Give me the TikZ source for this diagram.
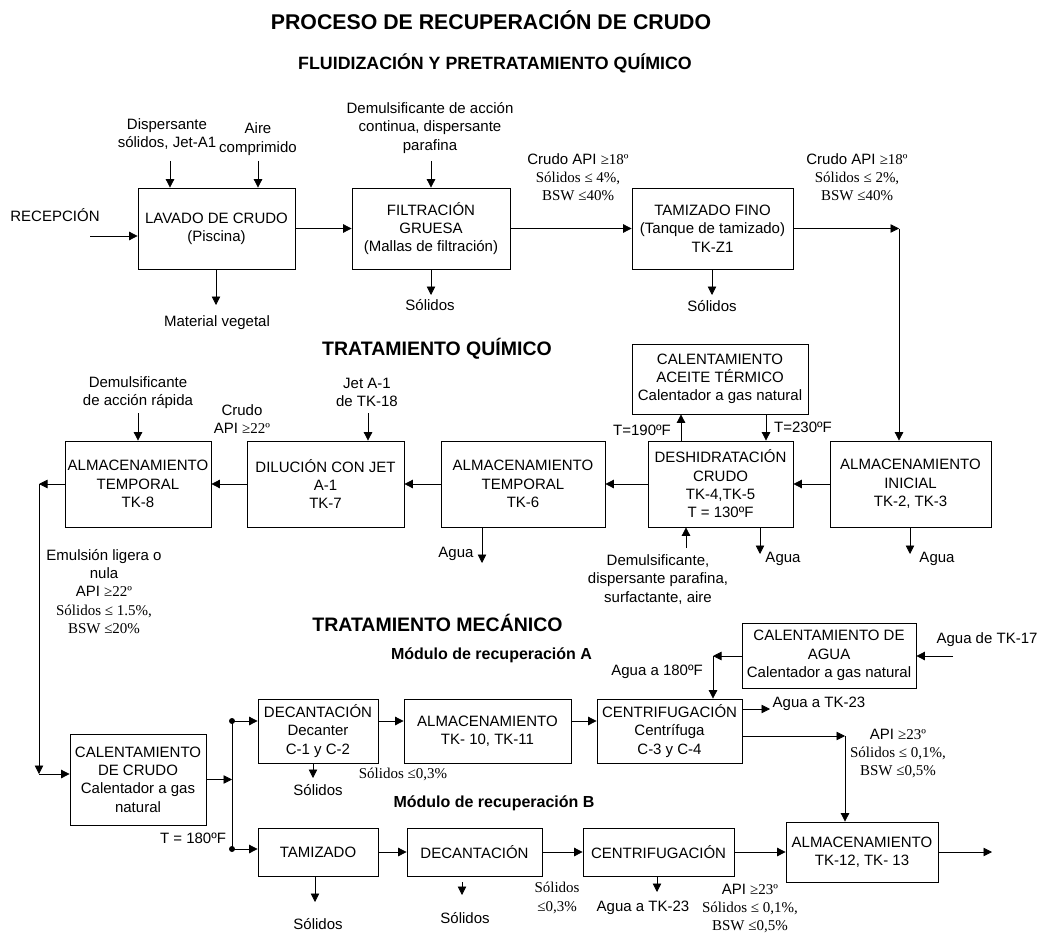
\documentclass[tikz,border=0pt]{standalone}
\usepackage{fontspec}
\setmainfont{Liberation Sans}
\newfontfamily\tnr{Liberation Serif}
\usepackage{tikz}
\usetikzlibrary{arrows.meta,positioning}
\newcommand{\tms}[1]{{\tnr #1}}

\begin{document}
\begin{tikzpicture}[
    x=1pt, y=-1pt,
    >={Triangle[length=8.5pt,width=8.5pt]},
    line width=0.8pt,
    every node/.style={font=\fontsize{15}{18.3}\selectfont},
    proc/.style={draw, rectangle, inner sep=0pt, align=center},
    lbl/.style={align=center, inner sep=1.5pt},
    head/.style={font=\fontsize{19.5}{22}\selectfont\bfseries},
    subhead/.style={font=\fontsize{16}{19}\selectfont\bfseries}
]
    \useasboundingbox (0,0) rectangle (1046,936);

    \node[font=\fontsize{21.3}{24}\selectfont\bfseries] (title) at (491,20) {PROCESO DE RECUPERACIÓN DE CRUDO};
    \node[font=\fontsize{17.8}{21}\selectfont\bfseries] (sub) at (495,63) {FLUIDIZACIÓN Y PRETRATAMIENTO QUÍMICO};
    \node[head] (headQ) at (437,349) {TRATAMIENTO QUÍMICO};
    \node[head] (headM) at (437.5,623) {TRATAMIENTO MECÁNICO};
    \node[subhead] (modA) at (491.5,655) {Módulo de recuperación A};
    \node[subhead] (modB) at (494,803) {Módulo de recuperación B};

    % fluidizacion
    \node[proc, minimum width=157pt, minimum height=81pt] (lavado) at (216.5,228.5) {LAVADO DE CRUDO\\(Piscina)};
    \node[proc, minimum width=158pt, minimum height=81pt] (filtr) at (431,228.5) {FILTRACIÓN\\GRUESA\\(Mallas de filtración)};
    \node[proc, minimum width=161pt, minimum height=81pt] (tamiz) at (712.5,228.5) {TAMIZADO FINO\\(Tanque de tamizado)\\TK-Z1};

    % quimico
    \node[proc, minimum width=176pt, minimum height=70pt] (caceite) at (720,379) {CALENTAMIENTO\\ACEITE TÉRMICO\\Calentador a gas natural};
    \node[proc, minimum width=145pt, minimum height=86pt] (deshid) at (720.5,484) {DESHIDRATACIÓN\\CRUDO\\TK-4,TK-5\\T = 130ºF};
    \node[proc, minimum width=161pt, minimum height=86pt] (inicial) at (910.5,484) {ALMACENAMIENTO\\INICIAL\\TK-2, TK-3};
    \node[proc, minimum width=164pt, minimum height=86pt] (tk6) at (523,484) {ALMACENAMIENTO\\TEMPORAL\\TK-6};
    \node[proc, minimum width=157pt, minimum height=86pt] (dilucion) at (325.5,484) {DILUCIÓN CON JET\\A-1\\TK-7};
    \node[proc, minimum width=146pt, minimum height=86pt] (tk8) at (138,484) {ALMACENAMIENTO\\TEMPORAL\\TK-8};

    % mecanico
    \node[proc, minimum width=136pt, minimum height=91pt] (ccrudo) at (138,779.5) {CALENTAMIENTO\\DE CRUDO\\Calentador a gas\\natural};
    \node[proc, minimum width=120pt, minimum height=64pt] (decA) at (318,731) {DECANTACIÓN\\Decanter\\C-1 y C-2};
    \node[proc, minimum width=167pt, minimum height=64pt] (almA) at (487.5,731) {ALMACENAMIENTO\\TK- 10, TK-11};
    \node[proc, minimum width=145pt, minimum height=64pt] (cenA) at (669.5,731) {CENTRIFUGACIÓN\\Centrífuga\\C-3 y C-4};
    \node[proc, minimum width=174pt, minimum height=65pt] (cagua) at (829,655.5) {CALENTAMIENTO DE\\AGUA\\Calentador a gas natural};
    \node[proc, minimum width=120pt, minimum height=48pt] (tamB) at (318,852) {TAMIZADO};
    \node[proc, minimum width=135pt, minimum height=48pt] (decB) at (474.5,852) {DECANTACIÓN};
    \node[proc, minimum width=151pt, minimum height=48pt] (cenB) at (658.5,852) {CENTRIFUGACIÓN};
    \node[proc, minimum width=152pt, minimum height=60pt] (almF) at (862,852) {ALMACENAMIENTO\\TK-12, TK- 13};

    % free ends
    \coordinate (rIn) at (90,236);
    \coordinate (fDisp) at (170,161);
    \coordinate (fAire) at (258,161);
    \coordinate (oVeg) at (216,305);
    \coordinate (fDem) at (431,161);
    \coordinate (oSol1) at (431,295);
    \coordinate (oSol2) at (712,295);
    \coordinate (jT) at (899,228.5);
    \coordinate (fDemR) at (138,413);
    \coordinate (fJet) at (368,413);
    \coordinate (fDesh) at (686,548);
    \coordinate (oW6) at (482,563);
    \coordinate (oWD) at (760,554);
    \coordinate (oWI) at (910,554);
    \coordinate (jL) at (39,484);
    \coordinate (jD) at (39,774);
    \coordinate (jA) at (232,721);
    \coordinate (jB) at (232,849);
    \coordinate (oSolA) at (313,778);
    \coordinate (wIn) at (953,656);
    \coordinate (jW) at (713,656);
    \coordinate (oTK23) at (770,709);
    \coordinate (jR) at (845,736);
    \coordinate (oSolT) at (315,902);
    \coordinate (sD0) at (462,882);
    \coordinate (oSolD) at (462,895);
    \coordinate (oCenB) at (657,892);
    \coordinate (out) at (992,852);

    % labels
    \node[lbl] (recep) at (55,215) {RECEPCIÓN};
    \node[lbl] (dispA) at (167,134) {Dispersante\\sólidos, Jet-A1};
    \node[lbl] (aire) at (258,139) {Aire\\comprimido};
    \node[lbl] (mveg) at (217,323) {Material vegetal};
    \node[lbl] (demc) at (430,128) {Demulsificante de acción\\continua, dispersante\\parafina};
    \node[lbl] (sol1) at (430,305) {Sólidos};
    \node[lbl] (cond1) at (578,177) {Crudo API \tms{≥18º}\\\tms{Sólidos ≤ 4\%,}\\\tms{BSW ≤40\%}};
    \node[lbl] (sol2) at (712,306) {Sólidos};
    \node[lbl] (cond2) at (857,177) {Crudo API \tms{≥18º}\\\tms{Sólidos ≤ 2\%,}\\\tms{BSW ≤40\%}};
    \node[lbl] (demr) at (138,392.5) {Demulsificante\\de acción rápida};
    \node[lbl] (jet) at (367,392.5) {Jet A-1\\de TK-18};
    \node[lbl] (crudo22) at (242,419) {Crudo\\API \tms{≥22º}};
    \node[lbl] (t190) at (642,430) {T=190ºF};
    \node[lbl] (t230) at (803,427) {T=230ºF};
    \node[lbl] (demd) at (658,579.5) {Demulsificante,\\dispersante parafina,\\surfactante, aire};
    \node[lbl] (agua6) at (456,554) {Agua};
    \node[lbl] (aguaD) at (783,559) {Agua};
    \node[lbl] (aguaI) at (937,559) {Agua};
    \node[lbl] (emul) at (104,591.5) {Emulsión ligera o\\nula\\API \tms{≥22º}\\\tms{Sólidos ≤ 1.5\%,}\\\tms{BSW ≤20\%}};
    \node[lbl] (t180) at (193,838) {T = 180ºF};
    \node[lbl] (solA) at (318,790) {Sólidos};
    \node[lbl] (solA2) at (403,774) {\tms{Sólidos ≤0,3\%}};
    \node[lbl] (aguaF) at (987,640) {Agua de TK-17};
    \node[lbl] (agua180) at (657,672) {Agua a 180ºF};
    \node[lbl] (aguaT1) at (819,704) {Agua a TK-23};
    \node[lbl] (cond3) at (898,753.5) {API \tms{≥23º}\\\tms{Sólidos ≤ 0,1\%,}\\\tms{BSW ≤0,5\%}};
    \node[lbl] (solT) at (318,924) {Sólidos};
    \node[lbl] (solD) at (465,918) {Sólidos};
    \node[lbl] (solD2) at (557,898) {\tms{Sólidos}\\\tms{≤0,3\%}};
    \node[lbl] (aguaT2) at (643,908) {Agua a TK-23};
    \node[lbl] (cond4) at (750,908.5) {API \tms{≥23º}\\\tms{Sólidos ≤ 0,1\%,}\\\tms{BSW ≤0,5\%}};

    % fluidizacion
    \draw[->] (rIn) -- (rIn -| lavado.west);
    \draw[->] (fDisp) -- (fDisp |- lavado.north);
    \draw[->] (fAire) -- (fAire |- lavado.north);
    \draw[->] (lavado.south -| oVeg) -- (oVeg);
    \draw[->] (lavado) -- (filtr);
    \draw[->] (fDem) -- (fDem |- filtr.north);
    \draw[->] (filtr.south) -- (oSol1);
    \draw[->] (filtr) -- (tamiz);
    \draw[->] (tamiz.south -| oSol2) -- (oSol2);
    \draw[->] (tamiz.east |- jT) -- (jT);
    \draw[->] (jT) -- (jT |- inicial.north);

    % quimico
    \draw[->] (inicial) -- (deshid);
    \draw[->] (deshid) -- (tk6);
    \draw[->] (tk6) -- (dilucion);
    \draw[->] (dilucion) -- (tk8);
    \draw[->] ([xshift=-39.5pt]deshid.north) -- ([xshift=-39.5pt]deshid.north |- caceite.south);
    \draw[->] ([xshift=45.5pt]caceite.south -| deshid.center) -- ([xshift=45.5pt]deshid.north);
    \draw[->] (fDesh) -- (fDesh |- deshid.south);
    \draw[->] (deshid.south -| oWD) -- (oWD);
    \draw[->] (inicial.south -| oWI) -- (oWI);
    \draw[->] (tk6.south -| oW6) -- (oW6);
    \draw[->] (fDemR) -- (fDemR |- tk8.north);
    \draw[->] (fJet) -- (fJet |- dilucion.north);
    \draw[->] (tk8.west) -- (jL);
    \draw[->] (jL) -- (jD);
    \draw[->] (jD) -- (jD -| ccrudo.west);

    % mecanico
    \draw[->] (ccrudo) -- (ccrudo -| jA);
    \draw (jA) -- (jB);
    \fill (jA) circle (3);
    \fill (jB) circle (3);
    \draw[->] (jA) -- (jA -| decA.west);
    \draw[->] (jB) -- (jB -| tamB.west);
    \draw[->] (decA.east |- jA) -- (almA.west |- jA);
    \draw[->] (almA.east |- jA) -- (cenA.west |- jA);
    \draw[->] (decA.south -| oSolA) -- (oSolA);
    \draw[->] (wIn) -- (wIn -| cagua.east);
    \draw[->] (cagua.west |- jW) -- (jW);
    \draw[->] (jW) -- (jW |- cenA.north);
    \draw[->] (cenA.east |- oTK23) -- (oTK23);
    \draw[->] (cenA.east |- jR) -- (jR);
    \draw[->] (jR) -- (jR |- almF.north);
    \draw[->] (tamB) -- (decB);
    \draw[->] (decB) -- (cenB);
    \draw[->] (cenB) -- (almF);
    \draw[->] (almF.east) -- (out);
    \draw[->] (tamB.south -| oSolT) -- (oSolT);
    \draw[->] (sD0) -- (oSolD);
    \draw[->] (cenB.south -| oCenB) -- (oCenB);
\end{tikzpicture}
\end{document}
